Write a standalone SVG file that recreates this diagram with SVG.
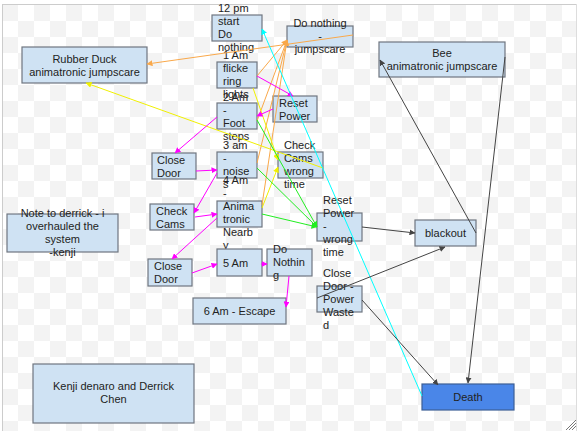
<svg xmlns="http://www.w3.org/2000/svg" width="577" height="431" viewBox="0 0 577 431">
<defs>
<pattern id="chk" x="2" y="5" width="32" height="32" patternUnits="userSpaceOnUse">
<rect x="0" y="0" width="32" height="32" fill="#ffffff"/>
<rect x="0" y="0" width="16" height="16" fill="#f3f3f3"/>
<rect x="16" y="16" width="16" height="16" fill="#f3f3f3"/>
</pattern>
<marker id="aO" markerWidth="6" markerHeight="6" refX="5.5" refY="3" orient="auto" markerUnits="userSpaceOnUse"><path d="M0,0 L6,3 L0,6 z" fill="#f9a84a"/></marker>
<marker id="aY" markerWidth="6" markerHeight="6" refX="5.5" refY="3" orient="auto" markerUnits="userSpaceOnUse"><path d="M0,0 L6,3 L0,6 z" fill="#f0f000"/></marker>
<marker id="aG" markerWidth="6" markerHeight="6" refX="5.5" refY="3" orient="auto" markerUnits="userSpaceOnUse"><path d="M0,0 L6,3 L0,6 z" fill="#22ee22"/></marker>
<marker id="aM" markerWidth="6" markerHeight="6" refX="5.5" refY="3" orient="auto" markerUnits="userSpaceOnUse"><path d="M0,0 L6,3 L0,6 z" fill="#ff00ff"/></marker>
<marker id="aC" markerWidth="6" markerHeight="6" refX="5.5" refY="3" orient="auto" markerUnits="userSpaceOnUse"><path d="M0,0 L6,3 L0,6 z" fill="#00ffff"/></marker>
<marker id="aK" markerWidth="6" markerHeight="6" refX="5.5" refY="3" orient="auto" markerUnits="userSpaceOnUse"><path d="M0,0 L6,3 L0,6 z" fill="#444444"/></marker>
</defs>
<style>
.box{fill:#cfe2f3;stroke:#6f7680;stroke-width:1.2}
.dark{fill:#4a86e8;stroke:#3c5f96;stroke-width:1.2}
text{font-family:"Liberation Sans",Arial,sans-serif;font-size:11px;fill:#222}
.c{text-anchor:middle}
.o{stroke:#f9a84a;stroke-width:1;fill:none;marker-end:url(#aO)}
.y{stroke:#f0f000;stroke-width:1;fill:none;marker-end:url(#aY)}
.g{stroke:#22ee22;stroke-width:1;fill:none;marker-end:url(#aG)}
.m{stroke:#ff00ff;stroke-width:1;fill:none;marker-end:url(#aM)}
.cy{stroke:#00ffff;stroke-width:1;fill:none;marker-end:url(#aC)}
.k{stroke:#444444;stroke-width:1;fill:none;marker-end:url(#aK)}
</style>
<rect x="0" y="0" width="577" height="431" fill="#ffffff"/>
<rect x="2" y="5" width="575" height="426" fill="url(#chk)"/>
<line x1="2" y1="4.5" x2="577" y2="4.5" stroke="#cccccc"/>
<line x1="2.5" y1="4" x2="2.5" y2="431" stroke="#cccccc"/>
<line x1="576.5" y1="4" x2="576.5" y2="431" stroke="#dddddd"/>
<g stroke="#555" stroke-width="0.8">
<line x1="566" y1="430" x2="576" y2="420"/>
<line x1="569" y1="430" x2="576" y2="423"/>
<line x1="572" y1="430" x2="576" y2="426"/>
</g>

<g id="n12pm"><rect class="box" x="212" y="15" width="50" height="26"/><text x="218" y="12">12 pm</text><text x="218" y="25">start</text><text x="218" y="38">Do</text><text x="218" y="51">nothing</text></g>
<g id="nJump"><rect class="box" x="287" y="26" width="66" height="21"/><text class="c" x="320" y="27">Do nothing</text><text class="c" x="320" y="40">-</text><text class="c" x="320" y="53">jumpscare</text></g>
<g id="nDuck"><rect class="box" x="22" y="47" width="125" height="36"/><text class="c" x="84.5" y="63">Rubber Duck</text><text class="c" x="84.5" y="76">animatronic jumpscare</text></g>
<g id="nBee"><rect class="box" x="379" y="42" width="126" height="35"/><text class="c" x="442" y="57">Bee</text><text class="c" x="442" y="70">animatronic jumpscare</text></g>
<g id="n1am"><rect class="box" x="217" y="62" width="40" height="26"/><text x="223" y="59">1 Am</text><text x="223" y="72">flicke</text><text x="223" y="85">ring</text><text x="223" y="98">lights</text></g>
<g id="n2am"><rect class="box" x="217" y="103" width="40" height="26"/><text x="223" y="101">2 Am</text><text x="223" y="114">-</text><text x="223" y="127">Foot</text><text x="223" y="140">steps</text></g>
<g id="nReset"><rect class="box" x="273" y="96" width="44" height="26"/><text x="279" y="107">Reset</text><text x="279" y="120">Power</text></g>
<g id="n3am"><rect class="box" x="217" y="152" width="40" height="26"/><text x="223" y="149">3 am</text><text x="223" y="162">-</text><text x="223" y="175">noise</text><text x="223" y="188">s</text></g>
<g id="nCCwt"><rect class="box" x="278" y="152" width="45" height="26"/><text x="284" y="149">Check</text><text x="284" y="162">Cams</text><text x="284" y="175">wrong</text><text x="284" y="188">time</text></g>
<g id="nClose1"><rect class="box" x="152" y="153" width="44" height="26"/><text x="157" y="164">Close</text><text x="157" y="177">Door</text></g>
<g id="n4am"><rect class="box" x="217" y="201" width="45" height="26"/><text x="223" y="184">4 Am</text><text x="223" y="197">-</text><text x="223" y="210">Anima</text><text x="223" y="223">tronic</text><text x="223" y="236">Nearb</text><text x="223" y="249">y</text></g>
<g id="nCheck"><rect class="box" x="150" y="204" width="44" height="26"/><text x="156" y="215">Check</text><text x="156" y="228">Cams</text></g>
<g id="nClose2"><rect class="box" x="148" y="259" width="44" height="27"/><text x="154" y="270">Close</text><text x="154" y="283">Door</text></g>
<g id="n5am"><rect class="box" x="217" y="249" width="45" height="27"/><text x="223" y="267">5 Am</text></g>
<g id="nDoNoth"><rect class="box" x="267" y="249" width="45" height="27"/><text x="273" y="253">Do</text><text x="273" y="266">Nothin</text><text x="273" y="279">g</text></g>
<g id="n6am"><rect class="box" x="193" y="298" width="93" height="26"/><text class="c" x="239.5" y="315">6 Am - Escape</text></g>
<g id="nRPwt"><rect class="box" x="317" y="213" width="45" height="28"/><text x="323" y="204">Reset</text><text x="323" y="217">Power</text><text x="323" y="230">-</text><text x="323" y="243">wrong</text><text x="323" y="256">time</text></g>
<g id="nCDpw"><rect class="box" x="317" y="286" width="45" height="26"/><text x="323" y="277">Close</text><text x="323" y="290">Door -</text><text x="323" y="303">Power</text><text x="323" y="316">Waste</text><text x="323" y="329">d</text></g>
<g id="nBlack"><rect class="box" x="415" y="220" width="61" height="26"/><text class="c" x="445.5" y="237">blackout</text></g>
<g id="nDeath"><rect class="dark" x="422" y="384" width="92" height="26"/><text class="c" x="468" y="401">Death</text></g>
<g id="nNote"><rect class="box" x="7" y="214" width="111" height="38"/><text class="c" x="62.5" y="217">Note to derrick - i</text><text class="c" x="62.5" y="230">overhauled the</text><text class="c" x="62.5" y="243">system</text><text class="c" x="62.5" y="256">-kenji</text></g>
<g id="nKenji"><rect class="box" x="33" y="364" width="161" height="59"/><text class="c" x="113.5" y="390">Kenji denaro and Derrick</text><text class="c" x="113.5" y="403">Chen</text></g>

<g id="connectors">
<path class="o" d="M257,76 L287,40"/>
<path class="o" d="M257,121 L287,40"/>
<path class="o" d="M257,163 L287,40"/>
<path class="o" d="M262,205 L287,40"/>
<path class="o" d="M353,35 L147,64"/>
<path class="y" d="M253,88 L278,160"/>
<path class="y" d="M262,208 L278,167"/>
<path class="y" d="M323,168 L86,83"/>
<path class="g" d="M257,120 L317,227"/>
<path class="g" d="M257,168 L317,227"/>
<path class="g" d="M262,214 L317,227"/>
<path class="m" d="M257,76 L293,96"/>
<path class="m" d="M273,109 L257,116"/>
<path class="m" d="M217,117 L175,153"/>
<path class="m" d="M196,171 L217,170"/>
<path class="m" d="M217,173 L194,213"/>
<path class="m" d="M195,217 L217,214"/>
<path class="m" d="M217,218 L172,259"/>
<path class="m" d="M192,273 L217,264"/>
<path class="m" d="M261,264 L267,264"/>
<path class="m" d="M289,276 L286,307"/>
<path class="cy" d="M422,396 L262,29"/>
<path class="k" d="M362,227 L415,233"/>
<path class="k" d="M317,298 L445,247"/>
<path class="k" d="M362,300 L438,385"/>
<path class="k" d="M476,233 L380,60"/>
<path class="k" d="M505,57 L468,383"/>
</g>
</svg>
